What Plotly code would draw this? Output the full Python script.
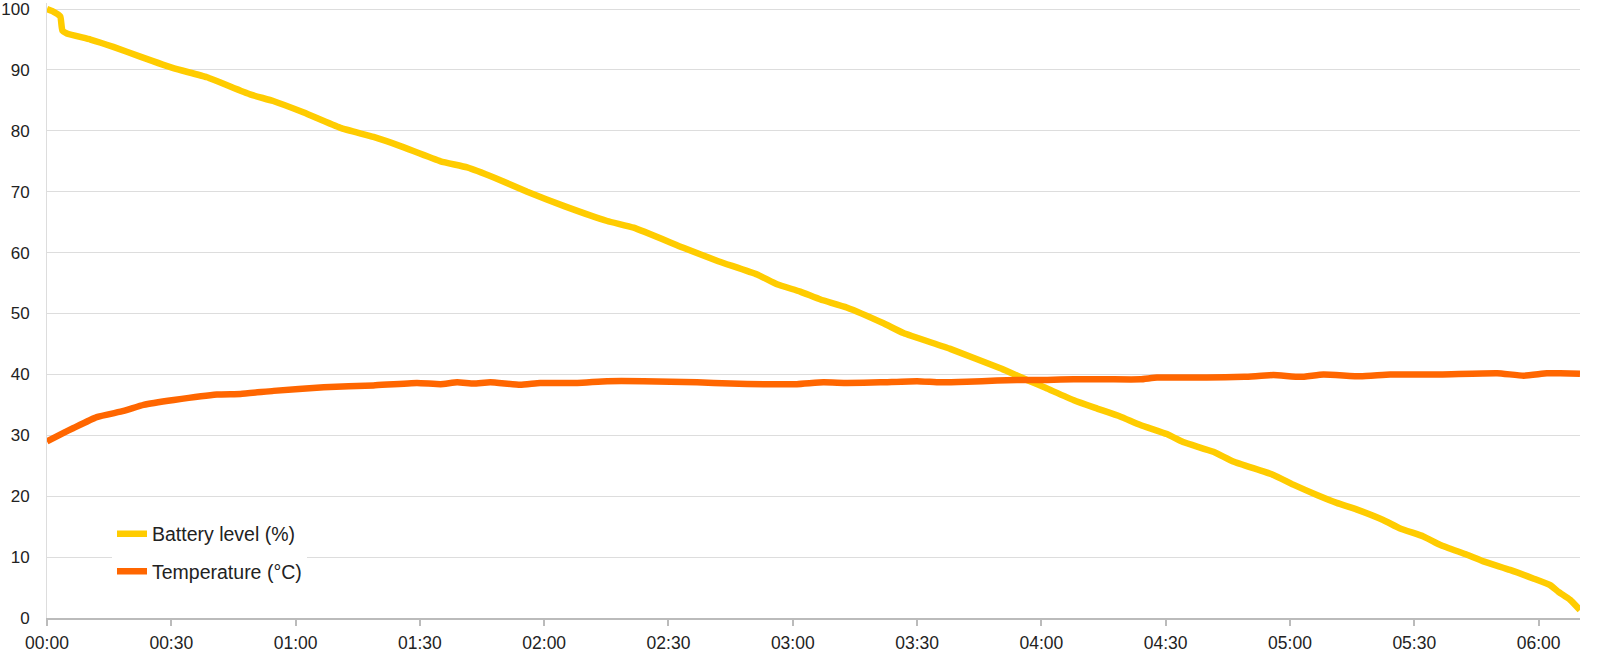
import plotly.graph_objects as go

# ---- data (minutes since start, values) ----
battery_t = [0, 1.5, 3.2, 3.7, 4.8, 10.5, 16, 22.5, 30.5, 38.6, 49, 54.6, 62, 70.8, 78.8, 85.3,
             95, 101.4, 108, 115.9, 125, 135.2, 141.6, 153.6, 162, 171.4, 176.2, 181.8, 186.7,
             193, 201.9, 206.7, 218, 230.1, 236.5, 241, 247.7, 253, 259, 263.9, 270.3, 274.2,
             281.5, 286.3, 296, 300.8, 306.5, 311.3, 316.2, 322.5, 326.6, 332.2, 336.3, 342.7,
             346.7, 353.1, 358.7, 362.8, 364.8, 367.6, 370]
battery_v = [100, 99.6, 98.8, 96.5, 96.0, 95.0, 93.8, 92.2, 90.3, 88.8, 86.0, 84.9, 83.0, 80.5,
             79.0, 77.5, 75.0, 74.0, 72.3, 70.0, 67.6, 65.2, 64.1, 60.8, 58.6, 56.4, 54.8, 53.6,
             52.3, 51.0, 48.4, 46.8, 44.2, 41.0, 39.1, 37.8, 35.8, 34.5, 33.1, 31.7, 30.2, 28.9,
             27.3, 25.7, 23.5, 21.9, 20.2, 18.9, 17.8, 16.1, 14.7, 13.4, 12.0, 10.4, 9.3, 7.9,
             6.5, 5.4, 4.3, 3.0, 1.3]

temp_t = [0, 4, 6.4, 12, 18.5, 23.3, 30.6, 41, 46.7, 54.7, 66.8, 78.8, 89.3, 95, 99, 103, 107,
          114.2, 119, 128, 135.2, 144, 156.9, 165, 173, 181, 187.4, 193.1, 201.1, 210, 215.6,
          222, 229.3, 234.1, 241.4, 247.8, 256, 263.9, 267.9, 279.9, 289, 296, 302.5, 308.1,
          317, 324.2, 336.3, 350, 356.4, 362, 365.2, 370]
temp_v = [29.0, 30.4, 31.2, 33.0, 34.0, 35.0, 35.8, 36.7, 36.8, 37.3, 37.9, 38.2, 38.6, 38.4,
          38.7, 38.5, 38.7, 38.3, 38.6, 38.6, 38.9, 38.9, 38.7, 38.5, 38.4, 38.4, 38.7, 38.6,
          38.7, 38.9, 38.7, 38.8, 39.0, 39.1, 39.1, 39.2, 39.2, 39.2, 39.5, 39.5, 39.6, 39.9,
          39.6, 40.0, 39.7, 40.0, 40.0, 40.2, 39.8, 40.2, 40.2, 40.1]

x_tickvals = [0, 30, 60, 90, 120, 150, 180, 210, 240, 270, 300, 330, 360]
x_ticktext = ["00:00", "00:30", "01:00", "01:30", "02:00", "02:30", "03:00", "03:30",
              "04:00", "04:30", "05:00", "05:30", "06:00"]
y_tickvals = [0, 10, 20, 30, 40, 50, 60, 70, 80, 90, 100]

series_names = ["Battery level (%)", "Temperature (°C)"]
series_colors = ["#FFCC00", "#FF6600"]

fig = go.Figure()
fig.add_trace(go.Scatter(x=battery_t, y=battery_v, mode="lines", name=series_names[0],
                         legendgroup="a",
                         line=dict(color=series_colors[0], width=6.5, shape="spline", smoothing=0.4)))
fig.add_trace(go.Scatter(x=temp_t, y=temp_v, mode="lines", name=series_names[1],
                         legendgroup="b",
                         line=dict(color=series_colors[1], width=6.5, shape="spline", smoothing=0.4)))

font_family = "Liberation Sans, Arial, sans-serif"

fig.update_layout(
    width=1600, height=655,
    margin=dict(l=47, r=20, t=3, b=37, autoexpand=False),
    paper_bgcolor="white", plot_bgcolor="white",
    font=dict(family=font_family, size=17.5, color="#222222"),
    showlegend=True,
    legend=dict(x=0.0424, y=0.0445, xanchor="left", yanchor="bottom",
                bgcolor="white", borderwidth=0, tracegroupgap=9,
                font=dict(family=font_family, size=19.5, color="#222222")),
)
fig.update_xaxes(range=[0, 370], tickvals=x_tickvals, ticktext=x_ticktext, automargin=False,
                 showgrid=False, zeroline=False, showline=True, linecolor="#BBBBBB",
                 linewidth=1.5, ticks="outside", ticklen=6, tickcolor="#BBBBBB", tickwidth=1.5,
                 ticklabelstandoff=2, ticklabeloverflow="allow",
                 tickfont=dict(size=17.5, color="#222222"))
fig.update_yaxes(range=[0, 101], tickvals=y_tickvals, showgrid=True, gridcolor="#DDDDDD",
                 automargin=False, ticklabeloverflow="allow",
                 gridwidth=1, zeroline=False, showline=True, linecolor="#DDDDDD", linewidth=1,
                 ticks="", ticklabelstandoff=13, tickfont=dict(size=17, color="#222222"))

fig.write_html("out.html", config={"displayModeBar": False},
               post_script="document.body.style.margin='0';document.body.style.overflow='hidden';")
